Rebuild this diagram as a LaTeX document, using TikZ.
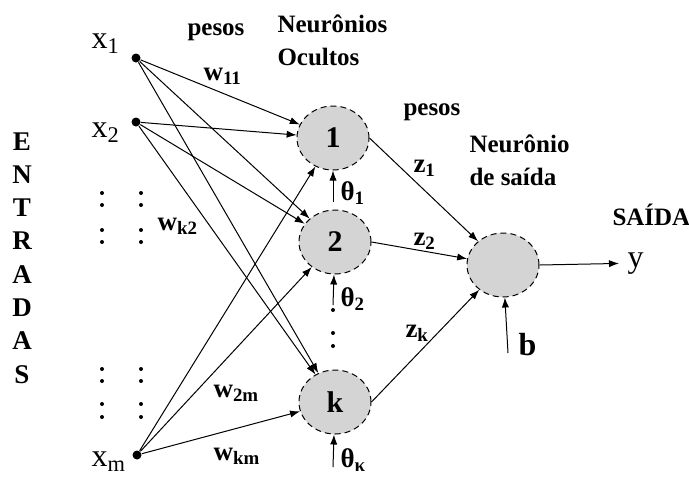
\documentclass[tikz,border=0pt]{standalone}
\usepackage{fontspec}
\setmainfont{Liberation Serif}
\usetikzlibrary{shapes.geometric,arrows.meta}

\begin{document}
\begin{tikzpicture}[x=0.5pt, y=-0.5pt, >={Latex[length=5pt,width=3.6pt]},
    line width=0.5pt,
    neuron/.style={ellipse, draw, densely dashed, fill=black!17,
      minimum width=36pt, minimum height=32pt, inner sep=0pt,
      font=\fontsize{15}{15}\selectfont\bfseries},
    entrada/.style={circle, fill=black, inner sep=0pt, minimum size=4.5pt},
    rotulo/.style={font=\fontsize{12.5}{12.5}\selectfont\bfseries, inner sep=0pt},
    peso/.style={font=\fontsize{13.5}{13.5}\selectfont\bfseries, inner sep=0pt, anchor=base west},
    var/.style={font=\fontsize{16}{16}\selectfont, inner sep=0pt, anchor=base west}]

  \useasboundingbox (0,0) rectangle (689,477);

  % Entradas
  \node[entrada] (x1) at (136,58)  {};
  \node[entrada] (x2) at (136,122) {};
  \node[entrada] (xm) at (137,455) {};
  \node[var] (lx1) at (91,48)  {x\textsubscript{1}};
  \node[var] (lx2) at (91,137) {x\textsubscript{2}};
  \node[var] (lxm) at (91,466) {x\textsubscript{m}};

  % Pontinhos
  \foreach \px in {102,141}
    \foreach \py in {193,205,230,242,369,381,404,417}
      \fill (\px,\py) circle (1pt);
  \foreach \py in {310,333,346}
    \fill (333,\py) circle (1pt);

  % Texto vertical
  \foreach \l [count=\i] in {E,N,T,R,A,D,A,S}
    \node[rotulo, font=\fontsize{13.5}{13.5}\selectfont\bfseries, anchor=base]
      (e\i) at (22,116.7+33.3*\i) {\l};

  % Neuronios ocultos
  \node[neuron] (n1) at (333,138) {1};
  \node[neuron] (n2) at (335,242) {2};
  \node[neuron] (nk) at (335,402) {k};

  % Neuronio de saida
  \node[neuron] (out) at (503,265) {};

  % Pesos da camada oculta
  \foreach \i in {x1,x2,xm}
    \foreach \j in {n1,n2,nk}
      \draw[->] (\i) -- (\j);

  \node[peso] (w11) at (203,80)  {w\textsubscript{11}};
  \node[peso] (wk2) at (157,230) {w\textsubscript{k2}};
  \node[peso] (w2m) at (213,397) {w\textsubscript{2m}};
  \node[peso] (wkm) at (213,460) {w\textsubscript{km}};

  % Limiares
  \coordinate (t1) at (333,202);
  \coordinate (t2) at (333,305);
  \coordinate (tk) at (333,467);
  \draw[->] (t1) -- (n1);
  \draw[->] (t2) -- (n2);
  \draw[->] (tk) -- (nk);
  \node[peso] (th1) at (340,200) {θ\textsubscript{1}};
  \node[peso] (th2) at (340,306) {θ\textsubscript{2}};
  \node[peso] (thk) at (340,467) {θ\textsubscript{κ}};

  % Pesos da saida
  \draw[->] (n1.east) -- (out);
  \draw[->] (n2.east) -- (out);
  \draw[->] (nk.east) -- (out);
  \node[peso] (z1) at (413,172) {z\textsubscript{1}};
  \node[peso] (z2) at (413,245) {z\textsubscript{2}};
  \node[peso] (zk) at (405,337) {z\textsubscript{k}};

  % Bias e saida
  \coordinate (cb) at (508,353);
  \draw[->] (cb) -- (out);
  \node[peso, font=\fontsize{16}{16}\selectfont\bfseries] (b) at (518,355) {b};
  \node[var] (y) at (627,267) {y};
  \draw[->, shorten >=4pt] (out.east) -- (y);

  % Titulos
  \node[rotulo, anchor=base west] (pesos1) at (187,35) {pesos};
  \node[rotulo, anchor=base west] (oc1) at (277,32) {Neurônios};
  \node[rotulo, anchor=base west] (oc2) at (277,65) {Ocultos};
  \node[rotulo, anchor=base west] (pesos2) at (403,115) {pesos};
  \node[rotulo, anchor=base west] (sd1) at (469,152) {Neurônio};
  \node[rotulo, anchor=base west] (sd2) at (469,185) {de saída};
  \node[rotulo, anchor=base west] (saida) at (612,225) {SAÍDA};

\end{tikzpicture}
\end{document}
